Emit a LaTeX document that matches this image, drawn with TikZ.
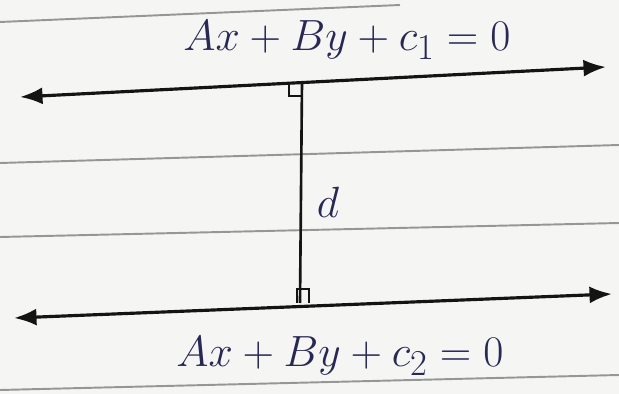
\documentclass[tikz,border=0pt]{standalone}
\usepackage{xcolor}
\usetikzlibrary{arrows.meta}
\definecolor{paper}{RGB}{245,245,243}
\definecolor{ruling}{RGB}{150,150,150}
\definecolor{ink}{RGB}{40,40,85}
\definecolor{pencil}{RGB}{20,20,20}

\begin{document}
\begin{tikzpicture}[
    x=0.02cm, y=-0.02cm,
    ruled/.style={ruling, line width=1.1pt},
    parline/.style={{Latex[length=4.5mm,width=3.4mm]}-{Latex[length=4.5mm,width=3.4mm]}, pencil, line width=1.8pt},
    perp/.style={pencil, line width=1.5pt},
    lbl/.style={text=ink, font=\fontsize{27.5}{32}\selectfont, inner sep=0pt}
]
\fill[paper] (0,0) rectangle (619,394);
\useasboundingbox (0,0) rectangle (619,394);

% notebook ruling
\draw[ruled] (0,22) -- (400,5);
\draw[ruled] (0,163) -- (619,145);
\draw[ruled] (0,237) -- (619,223);
\draw[ruled] (0,390) -- (619,375);

% the two parallel lines
\coordinate (L1a) at (20,97);
\coordinate (L1b) at (606,67);
\coordinate (L2a) at (14,318);
\coordinate (L2b) at (612,294);
\coordinate (F1) at (302,82);
\coordinate (F2) at (300,303);

\draw[parline] (L1a) -- (L1b);
\draw[parline] (L2a) -- (L2b);

% common perpendicular
\draw[perp] (F1) -- (F2);
\draw[perp] (F1) ++(-13,0) -- ++(0,14) -- ++(13,0);
\draw[perp] (F2) ++(-3,0) -- ++(0,-14) -- ++(12,0) -- ++(0,14);

\node[lbl] (eq1) at (347,40) {$Ax+By+c_1=0$};
\node[lbl] (eq2) at (340,356) {$Ax+By+c_2=0$};
\node[lbl] (dist) at (328,202) {$d$};
\end{tikzpicture}
\end{document}
